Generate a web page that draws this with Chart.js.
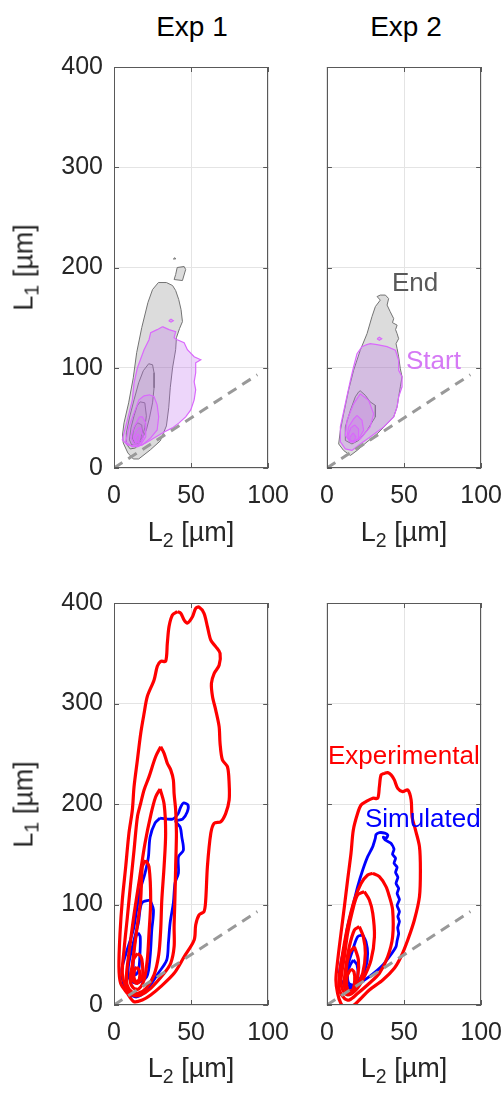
<!DOCTYPE html>
<html>
<head>
<meta charset="utf-8">
<title>L1 vs L2 contours</title>
<script src="https://cdn.jsdelivr.net/npm/chart.js@4.4.1/dist/chart.umd.min.js"></script>
<style>
    body {
        margin: 0;
        width: 504px;
        height: 1093px;
        position: relative;
        overflow: hidden;
        background: #fff;
        font-family: "Liberation Sans", Arial, Helvetica, sans-serif;
        color: #262626;
    }
    canvas { position: absolute; }
    .panel-title { position: absolute; width: 200px; text-align: center; font-size: 28px; line-height: 28px; color: #000; }
    .x-title { position: absolute; width: 200px; text-align: center; font-size: 27px; line-height: 27px; white-space: nowrap; }
    .y-title { position: absolute; width: 200px; text-align: center; font-size: 27px; line-height: 27px; white-space: nowrap; transform: rotate(-90deg); }
    .x-title sub, .y-title sub { font-size: 0.72em; vertical-align: -0.32em; line-height: 0; }
    .note { position: absolute; font-size: 26px; line-height: 26px; white-space: nowrap; }
</style>
</head>
<body>

<div class="panel-title" style="left:92px; top:13px;">Exp 1</div>
<div class="panel-title" style="left:306px; top:13px;">Exp 2</div>

<canvas id="topLeft" width="293" height="471" style="left:0; top:47px;"></canvas>
<canvas id="topRight" width="187" height="471" style="left:317px; top:47px;"></canvas>
<canvas id="bottomLeft" width="293" height="472" style="left:0; top:583px;"></canvas>
<canvas id="bottomRight" width="187" height="472" style="left:317px; top:583px;"></canvas>

<div class="y-title" style="left:-76px; top:254px;">L<sub>1</sub> [µm]</div>
<div class="y-title" style="left:-76px; top:791px;">L<sub>1</sub> [µm]</div>
<div class="x-title" style="left:91px; top:519px;">L<sub>2</sub> [µm]</div>
<div class="x-title" style="left:304px; top:519px;">L<sub>2</sub> [µm]</div>
<div class="x-title" style="left:91px; top:1055px;">L<sub>2</sub> [µm]</div>
<div class="x-title" style="left:304px; top:1055px;">L<sub>2</sub> [µm]</div>

<div class="note" style="left:392px; top:269px; color:#595959;">End</div>
<div class="note" style="left:406px; top:347px; color:#d579f5;">Start</div>
<div class="note" style="left:328px; top:742px; color:#ff0000;">Experimental</div>
<div class="note" style="left:365px; top:805px; color:#0000ff;">Simulated</div>

<script>
// Axis ticks
const xTicks = [0, 50, 100];
const yTicks = [0, 100, 200, 300, 400];

// Reference line L1 = L2
const unityLine = [[0, 0], [93, 93]];

// Exp 1, end of run (gray), outer to inner
const exp1EndOuter = [[28.8,185],[34,185],[38,182],[40,177],[42,168],[43.5,158],[44.4,146],[42.5,139],[40.5,130],[40,118],[38,100],[36.5,80],[35.5,60],[34,42],[30,27],[23.5,18],[16,9],[12.5,9],[9,15],[6,25],[5.5,33],[6.5,45],[9.5,65],[12.5,90],[14.7,115],[18,140],[22,165],[25,178]];
const exp1EndIsland = [[40,193],[41,200],[45.5,201],[46.5,198],[44.4,187],[39,188]];
const exp1EndDot = [[38.5,208.5],[39.5,209.8],[40,208.5]];
const exp1EndMid = [[22.5,104],[25,103],[26,95],[26,80],[25,65],[23,50],[21,38],[18,28],[14,20],[10.5,19],[8,24],[8,35],[10,50],[13,68],[16,85],[19,97]];
const exp1EndInner = [[17,66],[20,65],[21,52],[20,40],[18,30],[15,24],[11.5,23],[10,28],[11,40],[13,52],[15,62]];
const exp1EndCore = [[15.5,45],[18,43],[18.5,35],[16.5,27],[13.5,25],[12,29],[12.5,37],[14,43]];

// Exp 1, start of run (violet)
const exp1StartOuter = [[31.4,141],[35.7,138],[40,136],[39,130],[41,128],[45.5,125],[47.6,118],[52,111],[56.3,108],[53,105],[53,95],[52,86],[53,78],[52,68],[49.8,58],[46.5,51],[42.2,45],[37.9,40],[32.5,36],[26,30],[20.6,25],[15.2,21],[8.7,23],[5.4,28],[6.5,35],[8.7,48],[11.9,68],[13,85],[15.2,100],[19.5,118],[22.7,128],[23.8,135],[28,138]];
const exp1StartSpeck = [[35.5,147],[37,148.5],[38.5,147],[37,145.5]];
const exp1StartMid = [[19.5,72],[23,73],[26,71],[28,63],[29,51],[28,38],[23.8,30],[18.4,23],[11.9,21],[7.6,26],[9.7,41],[13,55],[16.2,68]];
const exp1StartInner = [[16.5,51],[18.4,51],[20.6,45],[20.6,31],[17.3,23],[13,23],[10.8,31],[13,41]];
const exp1StartCore = [[16,40],[17.3,40],[19,31],[17.3,25],[14,25],[12.6,31],[14,36]];
const exp1StartPeak = [[15.5,34],[17,31],[16,26],[14.5,26],[13.8,30]];

// Exp 2, end of run (gray)
const exp2EndOuter = [[32.5,171],[34.6,172.5],[37.9,172.5],[40,169],[39,162.5],[41,156],[43.3,149],[42.5,145],[45.5,142.5],[44.5,138],[45.5,134],[46.5,129],[44.8,124],[45.5,119],[46.5,111],[47.6,99],[48.7,91],[47.6,81],[46.5,71],[45.5,61],[43.3,51],[39,44],[32.5,34],[26,26],[19.5,17.5],[15.2,12.5],[10.8,17.5],[7.6,24],[8.7,37.5],[10.8,54],[14,77.5],[17.3,97.5],[21.6,117.5],[26,134],[29.2,151],[31.4,161],[34.6,167.5]];
const exp2EndMid = [[20.6,76],[21.6,77],[24.9,72.5],[28,66],[31.4,62.5],[31.4,51],[26,37.5],[20.6,27.5],[16.2,24],[11.9,27.5],[11.9,41],[15.2,57.5],[18.4,71]];

// Exp 2, start of run (violet)
const exp2StartOuter = [[24.9,122.5],[28,124],[32.5,123],[39,121],[44.4,117.5],[46.5,107.5],[46.5,97.5],[48.7,91],[48.7,81],[46.5,71],[45.5,61],[43.3,51],[36.8,41],[28,31],[21.6,24],[16.2,17.5],[11.9,19],[8.7,26],[8.7,41],[11.9,64],[15.2,87.5],[17.3,101],[19.5,114],[22.7,121]];
const exp2StartSpeck = [[32.5,129],[34,130.5],[35.5,129],[34,127.5]];
const exp2StartMid = [[21.6,74],[27,67.5],[30.3,54],[28,41],[21.6,29],[15.2,26],[11.9,32.5],[13,47.5],[17.3,64]];
const exp2StartInner = [[19.5,52.5],[22.7,47.5],[23.8,37.5],[20.6,29],[16.2,26],[13,31],[14,41],[17.3,49]];
const exp2StartCore = [[18,43],[20.5,39],[20.5,30],[17.5,25.5],[14.5,27],[14,34],[15.5,40]];
const exp2StartPeak = [[17,35],[18.8,31],[17.5,26.5],[15.5,27],[15,31]];

// Exp 1, experimental (red) and simulated (blue) densities
const exp1Measured1 = [[41.1,391.4],[37.9,388],[35.7,376.5],[34.6,360],[33.5,342],[30.3,342],[28.1,337],[26,323.4],[21.6,307],[19.5,290],[17.3,270],[15.2,244],[13,217],[11.9,194],[9.7,171],[7.6,137.7],[5.4,104.5],[3.9,71],[3.2,38],[4.3,21.6],[8.7,11.6],[13,3.3],[18.4,5],[23.8,10],[30.3,18.3],[39,31.5],[45.5,48],[52,64.7],[53,79.6],[55.2,89.6],[58.4,93],[59.5,104.5],[60.6,137.7],[62.8,170.8],[65,180.8],[69.3,182.4],[72.5,190.7],[74.7,204],[74.7,220.6],[73.6,237],[70.3,244],[68.8,260.4],[68.2,277],[66,293.5],[63.9,307],[63.2,320],[65,330],[68.2,338],[68.8,350],[66,356.6],[62.8,363],[60.6,376.5],[58.4,389.7],[55.2,396],[53,394.7],[50.9,386.4],[47.6,380],[45.5,383],[43.3,389.7]];
const exp1Measured2 = [[30.3,257],[27,247],[22.7,227],[19.5,214],[17.3,200.6],[15.2,187.4],[13,154],[10.8,121],[8.7,88],[6.5,54.7],[5.4,31.5],[7.6,18.3],[11.9,10],[17.3,10],[23.8,16.6],[32.5,31.5],[36.8,41.5],[39,58],[39,78],[39.5,104.5],[40,137.7],[40.5,170.8],[40,194],[39,210],[38.5,224],[36.8,234],[34.6,240.5],[32.5,250.4]];
const exp1Measured3 = [[29.9,215],[27,207],[24,190],[20,160],[16.5,125],[13,90],[10,55],[8.2,32],[8.5,20],[11.5,13],[16,12],[21,17],[26,30],[29,50],[30.3,75],[31,104],[32.5,138],[33.5,171],[32.5,200]];
const exp1Measured4 = [[20.6,144],[22.7,137.7],[23.8,104.5],[22.7,71],[21.6,45],[19.5,25],[16,16],[12.5,17],[10.5,25],[11.9,40],[13.5,60],[15.2,80],[17.3,104.5],[18.4,137.7]];
const exp1Measured5 = [[15.2,51.4],[17.5,48],[18.4,41.5],[18.4,28],[15.2,21.6],[12.5,24],[11.9,31.5],[12.6,44.8]];
const exp1Measured6 = [[14.8,38],[16.5,34],[16.5,26],[14.5,23],[13,27],[13.2,34]];
const exp1Simulated1 = [[29.9,186],[26.6,181],[23.4,167],[22.3,147],[20.1,131],[16.9,114],[14.7,94.6],[12.5,74.6],[7.1,47.8],[5,34.8],[6,21.9],[9.3,11.9],[14.7,8],[21.2,14.9],[28.8,31.8],[34.2,44.8],[35.3,61.7],[36.4,81.6],[38.5,101.5],[39.6,121.4],[41.8,131.3],[41.8,147.3],[45,154],[44,167],[42.9,177],[40,183],[44.5,185],[47.5,192],[48,199],[45,201],[43,196],[41.5,190],[38,185]];
const exp1Simulated2 = [[23.4,104.5],[18,101.5],[15.8,81.6],[12.5,61.7],[9.3,37.8],[10.4,24.9],[14.7,21.9],[21.2,27.9],[23.4,47.8],[24.5,74.6],[25.6,94.6]];
const exp1Simulated3 = [[15.5,72],[17,68],[16.8,50],[16,35],[14,30],[12.5,38],[13,55],[14.2,68]];

// Exp 2, experimental (red) and simulated (blue) densities
const exp2Measured1 = [[37.2,230.5],[35.1,229],[34,217.3],[32.9,205.7],[29.7,205.7],[25.3,202.4],[22.1,199],[19.9,190.7],[17.1,174.2],[15.6,151],[13.4,124.4],[11.3,97.9],[9.1,71.3],[7,44.8],[5.8,24.9],[6.9,11.6],[9,1.7],[12,-3],[16.7,-1],[21,5],[27.5,15],[36.2,24.9],[43.7,36.6],[48,48],[52.4,64.7],[56.7,84.6],[60,107.8],[60.6,134.3],[60,157.6],[57.4,174.2],[55.2,187.4],[54.6,204],[52.4,214],[49.1,212.3],[45.9,215.6],[43.7,224],[41.6,229],[39.4,231.2]];
const exp2Measured2 = [[29.7,131],[26.4,129.4],[22.1,121],[17.8,104.5],[13.4,78],[10.2,51.4],[8,28.2],[8,15],[11.3,6.7],[14.5,5],[20,11.6],[27.5,21.6],[34,31.6],[39.4,48],[42.6,68],[42.6,94.6],[40.5,107.8],[38.3,117.8],[34,127.7]];
const exp2Measured3 = [[24.2,112.8],[19.9,109.5],[16.7,94.6],[13.4,71.3],[11.3,48],[9.1,24.9],[10.2,15],[13.4,10],[18.8,15],[24.2,28.2],[28.6,44.8],[30.8,68],[29.7,91.2],[27.5,104.5]];
const exp2Measured4 = [[21,78],[17.8,74.6],[14.5,58],[12.3,38],[11.3,18.3],[14.5,11.6],[18.8,16.6],[23.2,31.6],[24.9,51.4],[23.6,68]];
const exp2Measured5 = [[17.8,58],[14.5,51.4],[12.3,31.6],[13.4,15],[16.7,15],[19.9,28.2],[20.4,44.8]];
const exp2Measured6 = [[15.5,36],[13,28],[13.5,14],[16.5,14],[18,24],[17.5,33]];
const exp2Simulated1 = [[31.4,166],[31.8,169.5],[34,171.5],[37.5,171],[39.5,169],[38.5,166],[36.5,167],[38,164],[41.5,161],[43.5,155],[42.5,150],[44.5,146],[43.5,141],[45.5,137],[44.5,132],[46,127],[44.8,121],[46.5,116],[45.5,111],[47,105],[45.5,99],[47,93],[46,88],[47,83],[45.9,77],[46.5,71],[45.5,64],[44.8,58],[40.5,48],[35.1,38],[27.5,28.2],[21,21.6],[15.6,16.6],[11.3,20],[8,28],[9,41.5],[11.3,58],[13.4,78],[16.7,97.9],[19.9,117.8],[23.2,134.3],[26.4,147.6],[29.7,157.6]];
const exp2Simulated2 = [[23.2,69.7],[19.9,68],[16.7,54.7],[13.4,38],[12.3,21.6],[15.6,18.3],[21,25],[25.3,38],[26.4,51.4],[25.3,63]];
const exp2Simulated3 = [[17.1,44.8],[19.5,40],[20,28],[17,20],[14,22],[13.5,32],[15.2,40]];

// Styles
const FONT = '"Liberation Sans", Arial, Helvetica, sans-serif';
const AXIS_COLOR = '#595959';
const GRID_COLOR = '#e4e4e4';
const GRAY_EDGE = 'rgb(115, 115, 115)';
const GRAY_FILL = 'rgba(128, 128, 128, 0.28)';
const GRAY_FILL_INNER = 'rgba(128, 128, 128, 0.13)';
const VIOLET_EDGE = 'rgb(218, 105, 252)';
const VIOLET_FILL = 'rgba(190, 105, 235, 0.27)';
const VIOLET_FILL_INNER = 'rgba(205, 95, 245, 0.18)';
const RED = '#ff0000';
const BLUE = '#0000ff';

// Where each plot box sits on the page
const panelBoxes = {
    topLeft: { left: 114, top: 67, right: 268, bottom: 468 },
    topRight: { left: 327, top: 67, right: 481, bottom: 468 },
    bottomLeft: { left: 114, top: 603, right: 268, bottom: 1005 },
    bottomRight: { left: 327, top: 603, right: 481, bottom: 1005 }
};

// Helpers
function toPoints(pairs, close) {
    const pts = pairs.map(p => ({ x: p[0], y: p[1] }));
    if (close) pts.push({ x: pairs[0][0], y: pairs[0][1] });
    return pts;
}

function contour(pairs, color, width, fillColor, tension) {
    return {
        data: toPoints(pairs, true),
        showLine: true,
        borderColor: color,
        borderWidth: width,
        pointRadius: 0,
        fill: false,
        tension: tension || 0,
        polyFill: fillColor || null
    };
}

function unityDataset() {
    return {
        data: toPoints(unityLine, false),
        showLine: true,
        borderColor: '#999999',
        borderWidth: 3,
        borderDash: [10, 7],
        pointRadius: 0,
        fill: false
    };
}

// later datasets are drawn on top
function stack(list) {
    list.forEach((ds, i) => { ds.order = -i; });
    return list;
}

// fill inside a closed contour, drawn just before its outline
const polyFillPlugin = {
    id: 'polyFill',
    beforeDatasetDraw(chart, args) {
        const ds = chart.data.datasets[args.index];
        if (!ds.polyFill) return;
        const ctx = chart.ctx;
        const area = chart.chartArea;
        ctx.save();
        ctx.beginPath();
        ctx.rect(area.left, area.top, area.right - area.left, area.bottom - area.top);
        ctx.clip();
        ctx.beginPath();
        args.meta.data.forEach((pt, i) => {
            if (i === 0) ctx.moveTo(pt.x, pt.y);
            else ctx.lineTo(pt.x, pt.y);
        });
        ctx.closePath();
        ctx.fillStyle = ds.polyFill;
        ctx.fill();
        ctx.restore();
    }
};

// box round the axes with inward tick marks
const framePlugin = {
    id: 'frame',
    afterDraw(chart) {
        const ctx = chart.ctx;
        const { left, right, top, bottom } = chart.chartArea;
        const xs = chart.scales.x;
        const ys = chart.scales.y;
        const len = 5;
        ctx.save();
        ctx.strokeStyle = AXIS_COLOR;
        ctx.lineWidth = 1;
        ctx.strokeRect(Math.round(left) + 0.5, Math.round(top) + 0.5, Math.round(right - left) - 1, Math.round(bottom - top) - 1);
        ctx.beginPath();
        xTicks.forEach(v => {
            const px = Math.round(xs.getPixelForValue(v)) + 0.5;
            ctx.moveTo(px, bottom); ctx.lineTo(px, bottom - len);
            ctx.moveTo(px, top); ctx.lineTo(px, top + len);
        });
        yTicks.forEach(v => {
            const py = Math.round(ys.getPixelForValue(v)) + 0.5;
            ctx.moveTo(left, py); ctx.lineTo(left + len, py);
            ctx.moveTo(right, py); ctx.lineTo(right - len, py);
        });
        ctx.stroke();
        ctx.restore();
    }
};

function panelOptions(showY) {
    const tickFont = { family: FONT, size: 25 };
    return {
        responsive: false,
        maintainAspectRatio: false,
        animation: false,
        events: [],
        layout: { padding: { top: 20, right: showY ? 25 : 23, bottom: 2, left: 0 } },
        plugins: { legend: { display: false }, tooltip: { enabled: false } },
        scales: {
            x: {
                type: 'linear',
                min: xTicks[0],
                max: xTicks[xTicks.length - 1],
                afterBuildTicks: scale => { scale.ticks = xTicks.map(v => ({ value: v })); },
                ticks: { color: '#262626', font: tickFont, padding: 13, maxRotation: 0, autoSkip: false },
                grid: { color: GRID_COLOR, drawTicks: false },
                border: { display: false },
                afterFit: scale => { scale.height = 48; }
            },
            y: {
                type: 'linear',
                min: yTicks[0],
                max: yTicks[yTicks.length - 1],
                afterBuildTicks: scale => { scale.ticks = yTicks.map(v => ({ value: v })); },
                ticks: { display: showY, color: '#262626', font: tickFont, padding: 11, autoSkip: false },
                grid: { color: GRID_COLOR, drawTicks: false },
                border: { display: false },
                afterFit: scale => { scale.width = showY ? 114 : 10; }
            }
        }
    };
}

// size and move the canvas so the plot box lands where it should
function placePanel(chart, box) {
    for (let i = 0; i < 3; i++) {
        const a = chart.chartArea;
        const w = Math.round(chart.width + (box.right - box.left) - (a.right - a.left));
        const h = Math.round(chart.height + (box.bottom - box.top) - (a.bottom - a.top));
        if (w === chart.width && h === chart.height) break;
        chart.resize(w, h);
    }
    const a = chart.chartArea;
    chart.canvas.style.left = Math.round(box.left - a.left) + 'px';
    chart.canvas.style.top = Math.round(box.top - a.top) + 'px';
}

function makePanel(id, datasets, showY) {
    const chart = new Chart(document.getElementById(id), {
        type: 'scatter',
        data: { datasets: stack(datasets) },
        options: panelOptions(showY),
        plugins: [polyFillPlugin, framePlugin]
    });
    placePanel(chart, panelBoxes[id]);
    return chart;
}

// Panels
makePanel('topLeft', [
    contour(exp1EndOuter, GRAY_EDGE, 1, GRAY_FILL),
    contour(exp1EndIsland, GRAY_EDGE, 1, GRAY_FILL),
    contour(exp1EndDot, GRAY_EDGE, 1, GRAY_FILL),
    contour(exp1EndMid, GRAY_EDGE, 1, GRAY_FILL_INNER),
    contour(exp1EndInner, GRAY_EDGE, 1, GRAY_FILL_INNER),
    contour(exp1EndCore, GRAY_EDGE, 1, GRAY_FILL_INNER),
    contour(exp1StartOuter, VIOLET_EDGE, 1.2, VIOLET_FILL),
    contour(exp1StartSpeck, VIOLET_EDGE, 1.2, VIOLET_FILL),
    contour(exp1StartMid, VIOLET_EDGE, 1.2, VIOLET_FILL_INNER),
    contour(exp1StartInner, VIOLET_EDGE, 1.2, VIOLET_FILL_INNER),
    contour(exp1StartCore, VIOLET_EDGE, 1.2, VIOLET_FILL_INNER),
    contour(exp1StartPeak, VIOLET_EDGE, 1.2, VIOLET_FILL_INNER),
    unityDataset()
], true);

makePanel('topRight', [
    contour(exp2EndOuter, GRAY_EDGE, 1, GRAY_FILL),
    contour(exp2EndMid, GRAY_EDGE, 1, GRAY_FILL_INNER),
    contour(exp2StartOuter, VIOLET_EDGE, 1.2, VIOLET_FILL),
    contour(exp2StartSpeck, VIOLET_EDGE, 1.2, VIOLET_FILL),
    contour(exp2StartMid, VIOLET_EDGE, 1.2, VIOLET_FILL_INNER),
    contour(exp2StartInner, VIOLET_EDGE, 1.2, VIOLET_FILL_INNER),
    contour(exp2StartCore, VIOLET_EDGE, 1.2, VIOLET_FILL_INNER),
    contour(exp2StartPeak, VIOLET_EDGE, 1.2, VIOLET_FILL_INNER),
    unityDataset()
], false);

makePanel('bottomLeft', [
    contour(exp1Simulated1, BLUE, 2.8, null, 0.3),
    contour(exp1Simulated2, BLUE, 2.8, null, 0.3),
    contour(exp1Simulated3, BLUE, 2.8, null, 0.3),
    contour(exp1Measured1, RED, 3.2, null, 0.3),
    contour(exp1Measured2, RED, 3.2, null, 0.3),
    contour(exp1Measured3, RED, 3.2, null, 0.3),
    contour(exp1Measured4, RED, 3.2, null, 0.3),
    contour(exp1Measured5, RED, 3.2, null, 0.3),
    contour(exp1Measured6, RED, 3.2, null, 0.3),
    unityDataset()
], true);

makePanel('bottomRight', [
    contour(exp2Simulated1, BLUE, 2.8, null, 0.2),
    contour(exp2Simulated2, BLUE, 2.8, null, 0.3),
    contour(exp2Simulated3, BLUE, 2.8, null, 0.3),
    contour(exp2Measured1, RED, 3.2, null, 0.3),
    contour(exp2Measured2, RED, 3.2, null, 0.3),
    contour(exp2Measured3, RED, 3.2, null, 0.3),
    contour(exp2Measured4, RED, 3.2, null, 0.3),
    contour(exp2Measured5, RED, 3.2, null, 0.3),
    contour(exp2Measured6, RED, 3.2, null, 0.3),
    unityDataset()
], false);
</script>
</body>
</html>
